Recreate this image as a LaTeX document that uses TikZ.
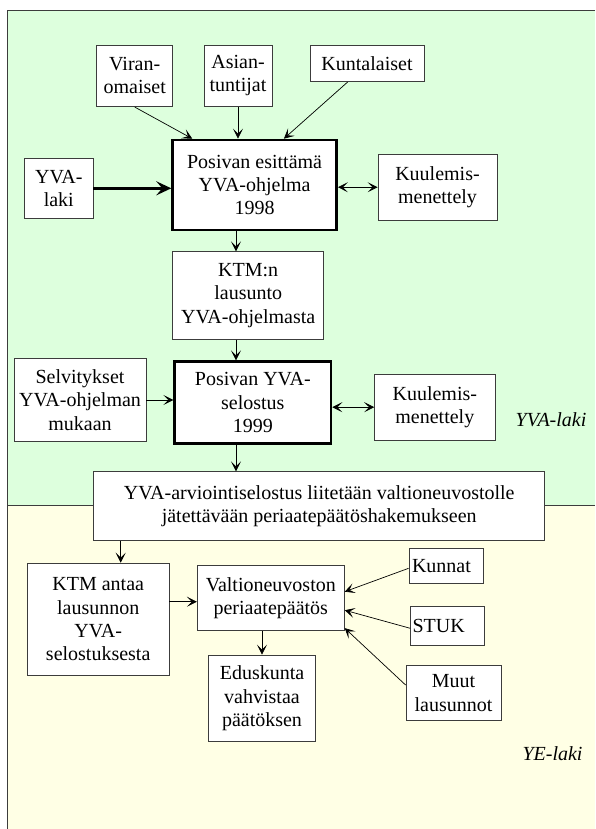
\documentclass[tikz,border=0pt]{standalone}
\usepackage{fontspec}
\setmainfont{Liberation Serif}
\usepackage{tikz}
\usetikzlibrary{arrows.meta,calc}
\definecolor{yvagreen}{RGB}{221,255,221}
\definecolor{yecream}{RGB}{255,255,229}
\definecolor{rim}{RGB}{60,60,60}

\begin{document}
\begin{tikzpicture}[x=1pt, y=-1pt,
  font=\fontsize{20}{23.3}\selectfont,
  box/.style={draw=rim, fill=white, line width=0.8pt, align=center, inner sep=1pt},
  main/.style={box, draw=black, line width=2.6pt},
  lawlab/.style={font=\fontsize{20}{23.3}\selectfont\itshape},
  arrow/.style={-{Stealth[length=10pt,width=10pt,inset=5pt]}, line width=0.7pt},
  twoway/.style={{Stealth[length=10pt,width=10pt,inset=5pt]}-{Stealth[length=10pt,width=10pt,inset=5pt]}, line width=0.7pt},
  heavy/.style={-{Stealth[length=15pt,width=14pt,inset=6pt]}, line width=3pt}
]
\useasboundingbox (0,0) rectangle (595,829);
% background areas
\fill[yvagreen] (7.6,10) rectangle (595,505);
\fill[yecream] (7.6,505) rectangle (595,829);
\draw[rim, line width=0.8pt] (7.6,829) -- (7.6,10) -- (595,10);
\draw[rim, line width=0.8pt] (7.6,505) -- (595,505);

% YVA part
\node[box, minimum width=76pt, minimum height=61.7pt] (viran) at (134.7,75.8) {Viran-\\omaiset};
\node[box, minimum width=68pt, minimum height=61.7pt] (asian) at (238,75.8) {Asian-\\tuntijat};
\node[box, minimum width=114pt, minimum height=36.7pt] (kunta) at (367,63.3) {Kuntalaiset};
\node[main, minimum width=164pt, minimum height=90pt] (ohjelma) at (254.6,185) {Posivan esittämä\\YVA-ohjelma\\1998};
\node[box, minimum width=68.3pt, minimum height=60pt] (laki) at (58.8,188.3) {YVA-\\laki};
\node[box, minimum width=119pt, minimum height=65.7pt] (kuul1) at (437.5,187.2) {Kuulemis-\\menettely};
\node[box, minimum width=151pt, minimum height=87.6pt] (ktmlaus) at (248.2,295.5) {KTM:n\\lausunto\\YVA-ohjelmasta};
\node[box, minimum width=132pt, minimum height=83.4pt] (selv) at (80,400) {Selvitykset\\YVA-ohjelman\\mukaan};
\node[main, minimum width=156.4pt, minimum height=81.6pt] (selostus) at (252.8,402.5) {Posivan YVA-\\selostus\\1999};
\node[box, minimum width=120.4pt, minimum height=65.7pt] (kuul2) at (434.8,407.2) {Kuulemis-\\menettely};
\node[lawlab] (yvalaki) at (551,420) {YVA-laki};
\node[box, minimum width=451pt, minimum height=69pt] (arvio) at (319.2,506.2) {YVA-arviointiselostus liitetään valtioneuvostolle\\jätettävään periaatepäätöshakemukseen};

% YE part
\node[box, minimum width=141.6pt, minimum height=112.7pt] (ktmanto) at (98.2,619.4) {KTM antaa\\lausunnon\\YVA-\\selostuksesta};
\node[box, minimum width=147pt, minimum height=65pt] (vnpp) at (270.8,598.2) {Valtioneuvoston\\periaatepäätös};
\node[box, minimum width=74pt, minimum height=35pt, text width=68pt, align=left] (kunnat) at (446,565.8) {Kunnat};
\node[box, minimum width=73.7pt, minimum height=38.6pt, text width=70pt, align=left] (stuk) at (447.5,626) {STUK};
\node[box, minimum width=95pt, minimum height=54.6pt] (muut) at (453.5,693) {Muut\\lausunnot};
\node[box, minimum width=106.3pt, minimum height=86.7pt] (edusk) at (262,698.3) {Eduskunta\\vahvistaa\\päätöksen};
\node[lawlab] (yelaki) at (552.5,753.3) {YE-laki};

\coordinate (spine) at (236,0);
\coordinate (drop) at (120.7,0);

% connectors
\draw[arrow] (viran.south) -- ([xshift=21pt]ohjelma.north west);
\draw[arrow] (asian.south) -- (asian.south |- ohjelma.north);
\draw[arrow] ([xshift=38pt]kunta.south west) -- ([xshift=-54pt]ohjelma.north east);
\draw[heavy] (laki.east) -- (laki.east -| ohjelma.west);
\draw[twoway] (kuul1.west -| ohjelma.east) -- (kuul1.west);
\draw[arrow] (ohjelma.south -| spine) -- (ktmlaus.north -| spine);
\draw[arrow] (ktmlaus.south -| spine) -- (selostus.north -| spine);
\draw[arrow] (selv.east) -- (selv.east -| selostus.west);
\draw[twoway] (kuul2.west -| selostus.east) -- (kuul2.west);
\draw[arrow] (selostus.south -| spine) -- (arvio.north -| spine);
\draw[arrow] (arvio.south -| drop) -- (ktmanto.north -| drop);
\draw[arrow] ([yshift=-3.5pt]vnpp.west -| ktmanto.east) -- ([yshift=-3.5pt]vnpp.west);
\draw[arrow] (vnpp.south -| edusk.north) -- (edusk.north);
\draw[arrow] ([yshift=-2.5pt]kunnat.west) -- ([yshift=6.5pt]vnpp.east);
\draw[arrow] ([yshift=-2.3pt]stuk.west) -- ([yshift=-12pt]vnpp.east);
\draw[arrow] ([yshift=8pt]muut.west) -- ([yshift=3pt]vnpp.south east);
\end{tikzpicture}
\end{document}
